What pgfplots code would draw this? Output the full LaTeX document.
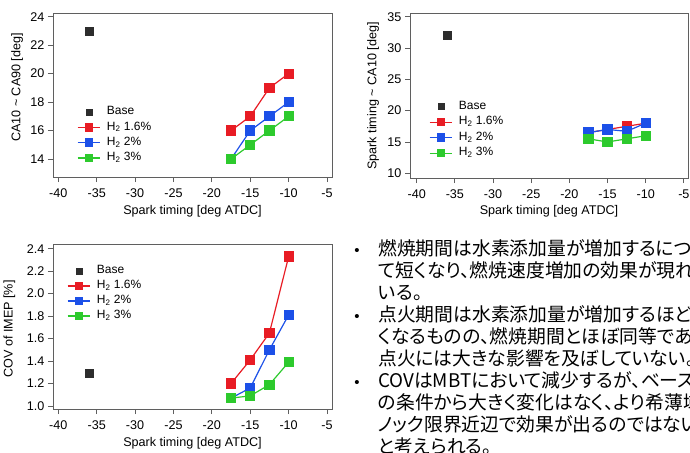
\documentclass[border=0pt]{standalone}
\usepackage{fontspec}
\setmainfont{Liberation Sans}
\newfontfamily\jpfont{Noto Sans CJK JP}[RawFeature=+palt]
\usepackage{pgfplots}
\pgfplotsset{compat=1.18}

\definecolor{cBase}{RGB}{45,45,45}
\definecolor{cRed}{RGB}{232,28,36}
\definecolor{cBlue}{RGB}{28,80,232}
\definecolor{cGreen}{RGB}{45,202,45}
\definecolor{cAxis}{RGB}{95,95,95}

\newcommand\plotfont{\fontsize{12.6pt}{14pt}\selectfont}
\newcommand\legfont{\fontsize{12pt}{13pt}\selectfont}

\pgfplotsset{
  sparkaxis/.style={
    scale only axis,
    font=\plotfont,
    axis line style={cAxis, line width=0.8pt},
    every tick/.style={cAxis, line width=0.8pt},
    tick align=outside,
    tick pos=left,
    major tick length=5pt,
    xtick={-40,-35,...,-5},
    /pgf/number format/assume math mode=true,
    tick label style={font=\plotfont},
    xticklabel style={yshift=-3pt},
    label style={font=\plotfont},
    xlabel={Spark timing [deg ATDC]},
    legend cell align=left,
    legend style={draw=none, fill=none, anchor=north west,
      inner sep=0pt, outer sep=0pt, row sep=4.8pt, column sep=6pt,
      font=\legfont,
      nodes={inner sep=0pt, text height=8pt, text depth=2.5pt}},
    legend image code/.code={%
      \draw[mark repeat=2,mark phase=2,##1]
        plot coordinates {(0pt,0pt) (11.4pt,0pt) (22.8pt,0pt)};},
  },
  series/.style={color=#1, mark=square*, mark size=4.5pt, line width=1.2pt,
    mark options={solid, fill=#1}, legend image post style={mark size=3.6pt}},
  baseser/.style={only marks, color=cBase, mark=square*, mark size=4.2pt,
    mark options={fill=cBase},
    legend image code/.code={%
      \draw[mark repeat=2,mark phase=2,##1]
        plot coordinates {(0pt,0pt) (11.4pt,0pt) (22.8pt,0pt)};},
    legend image post style={mark size=3pt}},
}

\begin{document}
\begin{tikzpicture}
\path[use as bounding box] (0pt,0pt) rectangle (690pt,-452pt);
\clip (0pt,0pt) rectangle (690pt,-452pt);

% Combustion duration
\begin{axis}[sparkaxis,
  at={(53pt,-177pt)}, anchor=south west, width=279pt, height=164pt,
  xmin=-40.69, xmax=-4.35, ymin=12.74, ymax=24.26,
  ytick={14,16,...,24},
  every axis x label/.style={at={(axis description cs:0.5,-0.207)}, anchor=center},
  every axis y label/.style={at={(axis description cs:-0.129,0.546)}, rotate=90, anchor=center},
  ylabel={CA10 \textasciitilde{} CA90 [deg]},
  legend style={at={(axis description cs:0.086,0.428)}, anchor=north west},
]
\addplot[baseser] coordinates {(-36,23)};
\addlegendentry{Base}
\addplot[series=cRed] coordinates {(-17.5,16) (-15,17) (-12.5,19) (-10,20)};
\addlegendentry{H\textsubscript{2} 1.6\%}
\addplot[series=cBlue] coordinates {(-17.5,14) (-15,16) (-12.5,17) (-10,18)};
\addlegendentry{H\textsubscript{2} 2\%}
\addplot[series=cGreen] coordinates {(-17.5,14) (-15,15) (-12.5,16) (-10,17)};
\addlegendentry{H\textsubscript{2} 3\%}
\end{axis}

% Ignition delay
\begin{axis}[sparkaxis,
  at={(410pt,-178pt)}, anchor=south west, width=278pt, height=165pt,
  xmin=-40.88, xmax=-4.46, ymin=9.25, ymax=35.59,
  ytick={10,15,...,35},
  every axis x label/.style={at={(axis description cs:0.5,-0.2)}, anchor=center},
  every axis y label/.style={at={(axis description cs:-0.133,0.497)}, rotate=90, anchor=center},
  ylabel={Spark timing \textasciitilde{} CA10 [deg]},
  legend style={at={(axis description cs:0.068,0.464)}, anchor=north west, row sep=5pt},
]
\addplot[baseser] coordinates {(-36,32)};
\addlegendentry{Base}
\addplot[series=cRed] coordinates {(-17.5,16.5) (-15,17) (-12.5,17.5) (-10,18)};
\addlegendentry{H\textsubscript{2} 1.6\%}
\addplot[series=cBlue] coordinates {(-17.5,16.5) (-15,17) (-12.5,16.7) (-10,18)};
\addlegendentry{H\textsubscript{2} 2\%}
\addplot[series=cGreen] coordinates {(-17.5,15.5) (-15,15) (-12.5,15.5) (-10,16)};
\addlegendentry{H\textsubscript{2} 3\%}
\end{axis}

% Cycle-to-cycle variation
\begin{axis}[sparkaxis,
  at={(53pt,-409pt)}, anchor=south west, width=279pt, height=165pt,
  xmin=-40.69, xmax=-4.35, ymin=0.973, ymax=2.442,
  ytick={1,1.2,1.4,1.6,1.8,2,2.2,2.4},
  yticklabel style={/pgf/number format/.cd, fixed, fixed zerofill, precision=1},
  every axis x label/.style={at={(axis description cs:0.5,-0.206)}, anchor=center},
  every axis y label/.style={at={(axis description cs:-0.156,0.485)}, rotate=90, anchor=center},
  ylabel={COV of IMEP [\%]},
  legend style={at={(axis description cs:0.05,0.868)}, anchor=north west, row sep=4.5pt},
]
\addplot[baseser] coordinates {(-36,1.29)};
\addlegendentry{Base}
\addplot[series=cRed] coordinates {(-17.5,1.20) (-15,1.41) (-12.5,1.65) (-10,2.33)};
\addlegendentry{H\textsubscript{2} 1.6\%}
\addplot[series=cBlue] coordinates {(-17.5,1.07) (-15,1.16) (-12.5,1.50) (-10,1.81)};
\addlegendentry{H\textsubscript{2} 2\%}
\addplot[series=cGreen] coordinates {(-17.5,1.07) (-15,1.09) (-12.5,1.19) (-10,1.39)};
\addlegendentry{H\textsubscript{2} 3\%}
\end{axis}

% Summary bullets
\begin{scope}[every node/.style={inner sep=0pt, anchor=base west},
              txt/.style={font=\jpfont\fontsize{18.8pt}{22pt}\selectfont}]
\foreach \y in {255.5, 321.5, 387.5}
  \node[anchor=base, font=\fontsize{15pt}{16pt}\selectfont] at (357pt,-\y pt) {•};
\node[txt] at (378pt,-255.5pt) {燃焼期間は水素添加量が増加するにつれ};
\node[txt] at (378pt,-277.5pt) {て短くなり、燃焼速度増加の効果が現れて};
\node[txt] at (378pt,-299.5pt) {いる。};
\node[txt] at (378pt,-321.5pt) {点火期間は水素添加量が増加するほど短};
\node[txt] at (378pt,-343.5pt) {くなるものの、燃焼期間とほぼ同等であり、};
\node[txt] at (378pt,-365.5pt) {点火には大きな影響を及ぼしていない。};
\node[txt] at (378pt,-387.5pt) {COVはMBTにおいて減少するが、ベース};
\node[txt] at (378pt,-409.5pt) {の条件から大きく変化はなく、より希薄域や};
\node[txt] at (378pt,-431.5pt) {ノック限界近辺で効果が出るのではないか};
\node[txt] at (378pt,-453.5pt) {と考えられる。};
\end{scope}
\end{tikzpicture}
\end{document}
